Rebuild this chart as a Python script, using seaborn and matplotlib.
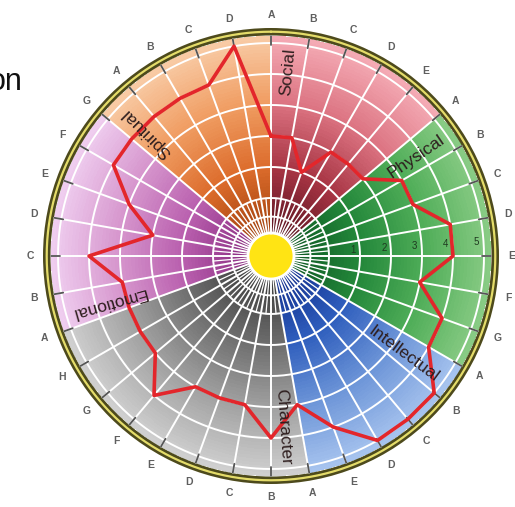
# Wellness wheel with the scores drawn as a red line

import numpy as np
import pandas as pd
import matplotlib
matplotlib.use("Agg")
import matplotlib.pyplot as plt
import seaborn as sns

sns.set_theme(style="white")
plt.rcParams['font.family'] = ['Liberation Sans', 'DejaVu Sans']

# sectors of the wheel and the items (spokes) in each of them
sectors = ["Social", "Physical", "Intellectual", "Character", "Emotional", "Spiritual"]
social_items = ["A", "B", "C", "D", "E"]
physical_items = ["A", "B", "C", "D", "E", "F", "G"]
intellectual_items = ["A", "B", "C", "D", "E"]
character_items = ["A", "B", "C", "D", "E", "F", "G", "H"]
emotional_items = ["A", "B", "C", "D", "E", "F", "G"]
spiritual_items = ["A", "B", "C", "D"]

# scores 0-5
social = [2, 2, 1, 2, 2]
physical = [2, 3, 3, 4, 4, 3, 4]
intellectual = [4, 5, 5, 5, 4]
character = [3, 4, 3, 3, 3, 4, 3, 3]
emotional = [3, 3, 4, 2, 3, 4, 4]
spiritual = [4, 4, 4, 5]

ring_labels = ["1", "2", "3", "4", "5"]

# coloured wedges, in spokes (Spiritual starts on Emotional G)
wedge_bounds = [0, 5, 12, 17, 25, 31, 36]
wedge_colors = [
    ["#5c1420", "#a83544", "#dc7482", "#f4aab4"],
    ["#0f5a24", "#23873a", "#4fad58", "#88cb84"],
    ["#12308f", "#2f5ebd", "#6e96d8", "#a6c3ee"],
    ["#3c3c3c", "#6e6e6e", "#a2a2a2", "#cfcfcf"],
    ["#8c2f83", "#b95fae", "#d696cd", "#efcdef"],
    ["#a2400c", "#dc6c2c", "#f09d62", "#f8caa4"],
]
# where the sector names sit: angle (deg), radius (score units)
name_pos = [(5.3, 4.1), (55.7, 3.8), (126.4, 3.45), (176, 3.65), (254, 3.58), (314.8, 3.77)]

items = [social_items, physical_items, intellectual_items, character_items,
         emotional_items, spiritual_items]
scores = [social, physical, intellectual, character, emotional, spiritual]
rows = []
for s, its, sc in zip(sectors, items, scores):
    for it, v in zip(its, sc):
        rows.append({"sector": s, "item": it, "score": v})
df = pd.DataFrame(rows)
n_spokes = len(df)
step = 360 / n_spokes
df["theta"] = np.radians(np.arange(n_spokes) * step)


def px2v(px):
    # wheel radius in pixels -> score units
    return (px - 58) / 31


fig = plt.figure(figsize=(5.15, 5.07), dpi=100)
ax = fig.add_axes([41 / 515, 21 / 507, 460 / 515, 460 / 507], projection='polar')
ax.set_theta_zero_location('N')
ax.set_theta_direction(-1)
ax.set_ylim(px2v(0), px2v(230))
ax.axis('off')

hub = px2v(23)
edge = px2v(220)

# gradient wedges
r_edges = np.linspace(hub, edge, 60)
for i, cols in enumerate(wedge_colors):
    a0, a1 = wedge_bounds[i] * step, wedge_bounds[i + 1] * step
    th = np.radians(np.linspace(a0, a1, int(a1 - a0) + 1))
    T, R = np.meshgrid(th, r_edges)
    Z = np.tile(np.linspace(0, 1, len(r_edges) - 1)[:, None], (1, len(th) - 1))
    cmap = sns.blend_palette(cols, as_cmap=True)
    ax.pcolormesh(T, R, Z, cmap=cmap, vmin=0, vmax=1, shading='flat', antialiased=False)

# white grid
full = np.linspace(0, 2 * np.pi, 361)
for v in [-0.6, 0, 1, 2, 3, 4, 5]:
    ax.plot(full, np.full_like(full, v), color='white', lw=1.4)
for t in df["theta"]:
    ax.plot([t, t], [hub, edge], color='white', lw=1.4)
    ax.plot([t + np.radians(step / 2)] * 2, [hub, 0.0], color='white', lw=0.9)
    ax.plot([t, t], [px2v(211), edge], color='#555555', lw=1.3)

# hub
ax.bar(0, hub - px2v(0), width=2 * np.pi, bottom=px2v(0), color='#ffe414', linewidth=0)
ax.plot(full, np.full_like(full, hub), color='white', lw=2)

# outer rim
ax.bar(0, px2v(228) - px2v(220.5), width=2 * np.pi, bottom=px2v(220.5),
       color='#4d4a1c', linewidth=0)
ax.plot(full, np.full_like(full, px2v(224.3)), color='#e4dc6a', lw=1.6)

# score line
closed = pd.concat([df, df.iloc[[0]]], ignore_index=True)
sns.lineplot(data=closed, x="theta", y="score", sort=False, ax=ax,
             color='#e3262b', lw=2.6, estimator=None)
ax.set_xlabel('')
ax.set_ylabel('')

# ring numbers
for k, lab in enumerate(ring_labels):
    ax.text(np.radians(86), k + 1 - 0.22, lab, fontsize=7, color='#1f3a20',
            ha='center', va='center')

# sector names, reading outward
for s, (a, r) in zip(sectors, name_pos):
    ax.text(np.radians(a), r, s, fontsize=12.5, color='#2e1e1e', rotation=90 - a,
            rotation_mode='anchor', ha='center', va='center')

# item letters round the rim
for t, it in zip(df["theta"], df["item"]):
    ax.text(t, px2v(241), it, fontsize=7.5, fontweight='bold', color='#5f5f5f',
            ha='center', va='center')

fig.text(23 / 515, 1 - 90 / 507, "on", fontsize=22, ha='right', va='baseline', color='#111111')

fig.savefig("out.png", dpi=100)
